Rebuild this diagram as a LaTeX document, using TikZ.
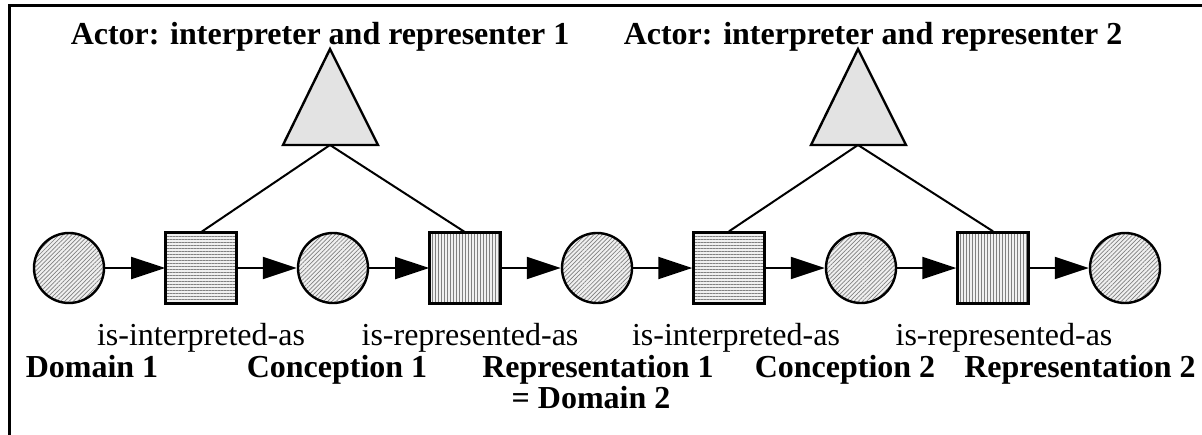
\documentclass[tikz,border=0pt]{standalone}
\usepackage{fontspec}
\setmainfont{Liberation Serif}
\usetikzlibrary{arrows.meta,
	patterns.meta,
	positioning}

\begin{document}
\begin{tikzpicture}[x=0.5pt, y=-0.5pt,
        font=\fontsize{16}{19}\selectfont,
        thing/.style={circle, draw, line width=1.2pt, minimum size=35pt, inner sep=0pt,
                preaction={fill=gray!12},
                pattern={Lines[angle=45,distance=1.5pt,line width=0.35pt]},
                pattern color=gray},
        interp/.style={rectangle, draw, line width=1.2pt, minimum size=35.5pt, inner sep=0pt,
                preaction={fill=gray!12},
                pattern={Lines[angle=0,distance=1.5pt,line width=0.35pt]},
                pattern color=gray},
        repres/.style={interp,
                pattern={Lines[angle=90,distance=1.5pt,line width=0.35pt]}},
        flow/.style={-{Triangle[length=17pt,width=11pt]}, line width=1pt},
        actor/.style={draw, line width=1.2pt, fill=gray!22},
        tie/.style={line width=1pt},
        rellabel/.style={anchor=base},
        boldlabel/.style={anchor=base, font=\fontsize{16}{19}\selectfont\bfseries}]
            \useasboundingbox (0, 0) rectangle (1202, 434);
            \draw[line width=1.5pt] (9, 440) -- (9, 5) -- (1210, 5);

            % chain
            \node[thing] (domain1) at (69, 268) {};
            \node[interp] (interp1) at (201, 268) {};
            \node[thing] (concept1) at (333, 268) {};
            \node[repres] (represent1) at (465, 268) {};
            \node[thing] (repr1) at (597, 268) {};
            \node[interp] (interp2) at (729, 268) {};
            \node[thing] (concept2) at (861, 268) {};
            \node[repres] (represent2) at (993, 268) {};
            \node[thing] (repr2) at (1125, 268) {};

            \draw[flow] (domain1) -- (interp1);
            \draw[flow] (interp1) -- (concept1);
            \draw[flow] (concept1) -- (represent1);
            \draw[flow] (represent1) -- (repr1);
            \draw[flow] (repr1) -- (interp2);
            \draw[flow] (interp2) -- (concept2);
            \draw[flow] (concept2) -- (represent2);
            \draw[flow] (represent2) -- (repr2);

            % actors
            \draw[actor] (330, 49) -- (378, 145) -- (283, 145) -- cycle;
            \coordinate (actor1) at (330, 145);
            \draw[actor] (858, 49) -- (906, 145) -- (811, 145) -- cycle;
            \coordinate (actor2) at (858, 145);
            \draw[tie] (actor1) -- (interp1.north);
            \draw[tie] (actor1) -- (represent1.north);
            \draw[tie] (actor2) -- (interp2.north);
            \draw[tie] (actor2) -- (represent2.north);

            \node[boldlabel] (title1) at (320, 44) {Actor: interpreter and representer 1};
            \node[boldlabel] (title2) at (873, 44) {Actor: interpreter and representer 2};

            % labels
            \node[rellabel] (rel1) at (201, 345) {is-interpreted-as};
            \node[rellabel] (rel2) at (470, 345) {is-represented-as};
            \node[rellabel] (rel3) at (736, 345) {is-interpreted-as};
            \node[rellabel] (rel4) at (1004, 345) {is-represented-as};
            \node[boldlabel] (lbl1) at (92, 377) {Domain 1};
            \node[boldlabel] (lbl2) at (337, 377) {Conception 1};
            \node[boldlabel] (lbl3) at (598, 377) {Representation 1};
            \node[boldlabel] (lbl4) at (845, 377) {Conception 2};
            \node[boldlabel] (lbl5) at (1080, 377) {Representation 2};
            \node[boldlabel] (lbl6) at (591, 408) {= Domain 2};
        \end{tikzpicture}
\end{document}
